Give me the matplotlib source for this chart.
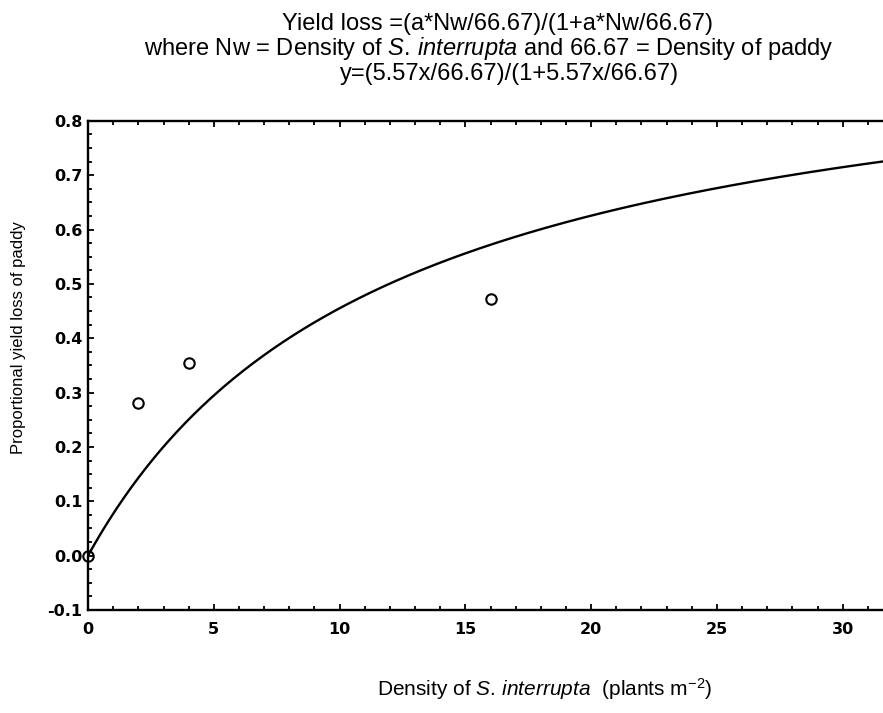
import numpy as np
import matplotlib
matplotlib.use("Agg")
import matplotlib.pyplot as plt
from matplotlib.ticker import MultipleLocator, FormatStrFormatter

plt.rcParams['font.family'] = ['Liberation Sans', 'DejaVu Sans']
plt.rcParams['mathtext.fontset'] = 'custom'
plt.rcParams['mathtext.rm'] = 'Liberation Sans'
plt.rcParams['mathtext.it'] = 'Liberation Sans:italic'
plt.rcParams['mathtext.bf'] = 'Liberation Sans:bold'

# Observed proportional yield loss at each weed density
density = [0, 2, 4, 16]
yield_loss = [0.0, 0.28, 0.355, 0.472]

# Fitted hyperbolic model parameters
a_param = 5.57
paddy_density = 66.67

x_max = 31.6
xs = np.linspace(0, x_max, 400)
fit = (a_param * xs / paddy_density) / (1 + a_param * xs / paddy_density)

fig = plt.figure(figsize=(8.83, 7.13), dpi=100)
ax = fig.add_axes([0.0997, 0.1445, 0.9003, 0.686])

ax.plot(xs, fit, color='black', lw=1.7)
ax.plot(density, yield_loss, 'o', mfc='none', mec='black', ms=7.5, mew=1.5,
        clip_on=False, zorder=3)

ax.set_xlim(0, x_max)
ax.set_ylim(-0.1, 0.8)
ax.xaxis.set_major_locator(MultipleLocator(5))
ax.xaxis.set_minor_locator(MultipleLocator(1))
ax.yaxis.set_major_locator(MultipleLocator(0.1))
ax.yaxis.set_minor_locator(MultipleLocator(0.025))
ax.yaxis.set_major_formatter(FormatStrFormatter('%.1f'))

ax.tick_params(which='both', direction='in', top=True, right=False, width=1.3)
ax.tick_params(which='major', length=4.5)
ax.tick_params(which='minor', length=3)
ax.tick_params(axis='x', pad=9)
ax.tick_params(axis='y', pad=4)
for lbl in ax.get_xticklabels() + ax.get_yticklabels():
    lbl.set_fontfamily('DejaVu Sans')
    lbl.set_fontweight('bold')
    lbl.set_fontsize(11.5)

for side in ('left', 'bottom', 'top'):
    ax.spines[side].set_linewidth(1.7)
ax.spines['right'].set_visible(False)

ax.set_ylabel('Proportional yield loss of paddy', fontsize=12, va='center')
ax.yaxis.set_label_coords(-0.088, 0.556)
ax.set_xlabel(r'Density of $\it{S.\,interrupta}$  (plants m$^{-2}$)',
              fontsize=15, va='baseline')
ax.xaxis.set_label_coords(0.575, -0.176)

title_lines = [
    ('Yield loss =(a*Nw/66.67)/(1+a*Nw/66.67)', 0.563, 0.958),
    (r'where Nw = Density of $\it{S.\,interrupta}$ and 66.67 = Density of paddy',
     0.554, 0.923),
    ('y=(5.57x/66.67)/(1+5.57x/66.67)', 0.577, 0.888),
]
for text, xc, yb in title_lines:
    fig.text(xc, yb, text, ha='center', va='baseline', fontsize=17)

fig.savefig('out.png', dpi=100)
